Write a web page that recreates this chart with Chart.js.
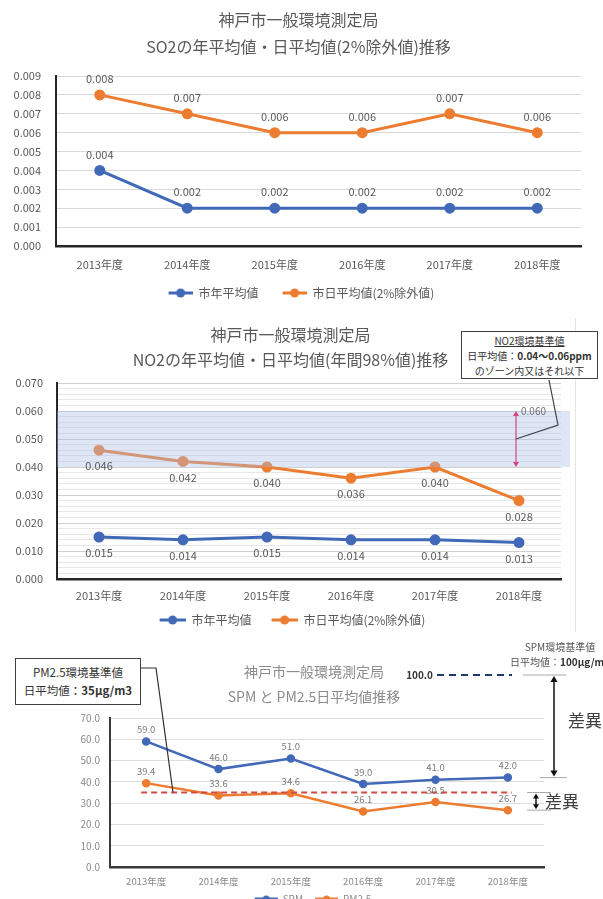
<!DOCTYPE html>
<html>
<head>
<meta charset="utf-8">
<script src="https://cdn.jsdelivr.net/npm/chart.js@4.4.0/dist/chart.umd.min.js"></script>
<style>
    html, body { margin: 0; padding: 0; background: #fff; width: 603px; height: 899px; overflow: hidden; }
    body { position: relative; font-family: "Noto Sans CJK JP", sans-serif; }
    canvas { position: absolute; left: 0; }
    .note { position: absolute; box-sizing: border-box; background: #fff; border: 1.5px solid #404040; color: #333; text-align: center; }
    .edge { position: absolute; background: #e4e4e4; }
</style>
</head>
<body>
<canvas id="so2Chart" width="603" height="309" style="top:0"></canvas>
<canvas id="no2Chart" width="603" height="327" style="top:309px"></canvas>
<canvas id="pmChart" width="603" height="278" style="top:636px"></canvas>

<div class="edge" style="left:575px;top:318px;width:1px;height:314px"></div>

<div class="note" style="left:461px;top:331px;width:137px;height:48px;font-size:10px;line-height:15px;padding-top:1px">
    <span style="text-decoration:underline">NO2環境基準値</span><br>日平均値：<b>0.04～0.06ppm</b><br>のゾーン内又はそれ以下
</div>
<div class="note" style="left:15px;top:658px;width:126px;height:47px;font-size:11.5px;line-height:18px;padding-top:4px">
    PM2.5環境基準値<br>日平均値：<b>35μg/m3</b>
</div>

<script>
const FONT = '"Noto Sans CJK JP", sans-serif';
Chart.defaults.font.family = FONT;

// データ
const years = ['2013年度', '2014年度', '2015年度', '2016年度', '2017年度', '2018年度'];
const so2Annual = [0.004, 0.002, 0.002, 0.002, 0.002, 0.002];
const so2Daily = [0.008, 0.007, 0.006, 0.006, 0.007, 0.006];
const no2Annual = [0.015, 0.014, 0.015, 0.014, 0.014, 0.013];
const no2Daily = [0.046, 0.042, 0.040, 0.036, 0.040, 0.028];
const spmDaily = [59.0, 46.0, 51.0, 39.0, 41.0, 42.0];
const pm25Daily = [39.4, 33.6, 34.6, 26.1, 30.5, 26.7];
const no2Zone = [0.040, 0.060];
const pm25Standard = 35;
const spmStandard = 100.0;

const BLUE = '#4169b8';
const ORANGE = '#ec7c30';

// 凡例のマーカー(線＋丸)。左側の余白で項目の間隔をとる
function legendIcon(color, w, gap, r) {
    const c = document.createElement('canvas');
    c.width = w + gap; c.height = 10;
    const g = c.getContext('2d');
    g.strokeStyle = color; g.lineWidth = 3;
    g.beginPath(); g.moveTo(gap, 5); g.lineTo(gap + w, 5); g.stroke();
    g.fillStyle = color;
    g.beginPath(); g.arc(gap + w / 2, 5, r, 0, Math.PI * 2); g.fill();
    return c;
}

// 値ラベル
const pointLabels = {
    id: 'pointLabels',
    afterDatasetsDraw(chart, args, opts) {
        const ctx = chart.ctx;
        ctx.save();
        ctx.font = opts.size + 'px ' + FONT;
        ctx.fillStyle = opts.color;
        ctx.textAlign = 'center';
        ctx.textBaseline = 'middle';
        chart.data.datasets.forEach((ds, i) => {
            const meta = chart.getDatasetMeta(i);
            meta.data.forEach((pt, j) => {
                ctx.fillText(ds.data[j].toFixed(opts.decimals), pt.x, pt.y + opts.offsets[i]);
            });
        });
        ctx.restore();
    }
};

// タイトルと凡例の横位置の調整
const headShift = {
    id: 'headShift',
    afterLayout(chart, args, opts) {
        if (chart.titleBlock) { chart.titleBlock.left += opts.title; chart.titleBlock.right += opts.title; }
        if (chart.legend) { chart.legend.left += opts.legend; chart.legend.right += opts.legend; }
    }
};

function arrowHead(ctx, x, y, dir, size) {
    ctx.beginPath();
    ctx.moveTo(x, y);
    ctx.lineTo(x - size * 0.6, y - dir * size);
    ctx.lineTo(x + size * 0.6, y - dir * size);
    ctx.closePath();
    ctx.fill();
}

function makeChart(id, cfg) {
    const icons = [BLUE, ORANGE].map(c => legendIcon(c, cfg.iconW, cfg.iconGap, cfg.radius + 0.5));
    return new Chart(document.getElementById(id), {
        type: 'line',
        data: {
            labels: years,
            datasets: cfg.series.map((s, i) => ({
                label: s.label,
                data: s.data,
                borderColor: i === 0 ? BLUE : ORANGE,
                backgroundColor: i === 0 ? BLUE : ORANGE,
                borderWidth: cfg.lineWidth,
                pointRadius: cfg.radius,
                pointHoverRadius: cfg.radius,
                tension: 0
            }))
        },
        plugins: cfg.plugins,
        options: {
            responsive: false,
            animation: false,
            layout: { padding: { left: 0, right: cfg.padRight, top: 0, bottom: 0 } },
            scales: {
                x: {
                    offset: true,
                    grid: { display: false, drawTicks: false },
                    border: { display: true, color: cfg.axisColor, width: 2.5 },
                    ticks: { color: cfg.textColor, font: { size: cfg.xFont }, padding: cfg.xPad, maxRotation: 0 },
                    afterFit: s => { s.height = cfg.xHeight; }
                },
                y: {
                    min: 0, max: cfg.yMax,
                    grid: { color: cfg.gridColor, drawTicks: false, lineWidth: 1 },
                    border: { display: true, color: cfg.axisColor, width: 2 },
                    ticks: { stepSize: cfg.yStep, autoSkip: false, color: cfg.textColor, font: { size: cfg.yFont }, padding: cfg.yPad, callback: cfg.yLabel },
                    afterFit: s => { s.width = cfg.yWidth; }
                }
            },
            plugins: {
                title: {
                    display: true,
                    text: cfg.title,
                    color: cfg.titleColor,
                    font: { size: cfg.titleSize, weight: 'normal', lineHeight: cfg.titleLine },
                    padding: { top: cfg.titleTop, bottom: cfg.titleBottom }
                },
                legend: {
                    position: 'bottom',
                    labels: {
                        usePointStyle: true,
                        pointStyleWidth: cfg.iconW + cfg.iconGap,
                        color: cfg.textColor,
                        font: { size: cfg.legendFont },
                        padding: cfg.legendPad,
                        generateLabels(chart) {
                            const items = Chart.defaults.plugins.legend.labels.generateLabels(chart);
                            items.forEach((it, i) => { it.pointStyle = icons[i]; });
                            return items;
                        }
                    }
                },
                tooltip: { enabled: false },
                pointLabels: cfg.labels,
                headShift: cfg.shift
            }
        }
    });
}

// SO2
makeChart('so2Chart', {
    title: ['神戸市一般環境測定局', 'SO2の年平均値・日平均値(2%除外値)推移'],
    titleSize: 16, titleLine: 1.7, titleTop: 6.4, titleBottom: 15.2, titleColor: '#595959',
    series: [{ label: '市年平均値', data: so2Annual }, { label: '市日平均値(2%除外値)', data: so2Daily }],
    lineWidth: 3, radius: 4, iconW: 24, iconGap: 14,
    padRight: 22, yWidth: 56, yPad: 15, xHeight: 31, xPad: 12,
    yMax: 0.009, yStep: 0.001, yLabel: v => v.toFixed(3),
    gridColor: '#d9d9d9', axisColor: '#262626', textColor: '#595959',
    xFont: 11, yFont: 11, legendFont: 12, legendPad: 10,
    labels: { size: 11, color: '#595959', decimals: 3, offsets: [-16, -16] },
    shift: { title: 8, legend: 4 },
    plugins: [pointLabels, headShift]
});

// NO2
const no2ZoneBand = {
    id: 'no2ZoneBand',
    afterDatasetsDraw(chart) {
        const { ctx, chartArea, scales: { y } } = chart;
        const top = y.getPixelForValue(no2Zone[1]);
        const bottom = y.getPixelForValue(no2Zone[0]);
        ctx.save();
        ctx.fillStyle = 'rgba(168,188,232,0.38)';
        ctx.fillRect(chartArea.left, top, chartArea.right - chartArea.left + 9, bottom - top);
        ctx.restore();
    }
};
const no2Notes = {
    id: 'no2Notes',
    afterDraw(chart) {
        const { ctx, scales: { x, y } } = chart;
        const ax = x.getPixelForValue(years.length - 1) - 3;
        const yHi = y.getPixelForValue(no2Zone[1]);
        const yLo = y.getPixelForValue(no2Zone[0]);
        const yMid = y.getPixelForValue((no2Zone[0] + no2Zone[1]) / 2);
        ctx.save();
        ctx.strokeStyle = '#d4457c'; ctx.fillStyle = '#d4457c'; ctx.lineWidth = 1.2;
        ctx.beginPath(); ctx.moveTo(ax, yHi + 3); ctx.lineTo(ax, yLo - 3); ctx.stroke();
        arrowHead(ctx, ax, yHi, -1, 5);
        arrowHead(ctx, ax, yLo, 1, 5);
        ctx.fillStyle = '#707070';
        ctx.font = '10px ' + FONT;
        ctx.textAlign = 'left'; ctx.textBaseline = 'middle';
        ctx.fillText(no2Zone[1].toFixed(3), ax + 5, yHi);
        ctx.strokeStyle = '#404040'; ctx.lineWidth = 1.2;
        ctx.beginPath(); ctx.moveTo(549, 71); ctx.lineTo(558, 116); ctx.lineTo(ax, yMid); ctx.stroke();
        ctx.restore();
    }
};
makeChart('no2Chart', {
    title: ['神戸市一般環境測定局', 'NO2の年平均値・日平均値(年間98%値)推移'],
    titleSize: 16, titleLine: 1.5625, titleTop: 13.5, titleBottom: 10.5, titleColor: '#595959',
    series: [{ label: '市年平均値', data: no2Annual }, { label: '市日平均値(2%除外値)', data: no2Daily }],
    lineWidth: 3, radius: 4, iconW: 26, iconGap: 10,
    padRight: 42, yWidth: 57, yPad: 14, xHeight: 25, xPad: 10,
    yMax: 0.07, yStep: 0.002,
    yLabel: v => (Math.round(v * 1000) % 10 === 0 ? v.toFixed(3) : ''),
    gridColor: c => (Math.round(c.tick.value * 1000) % 10 === 0 ? '#d0d0d0' : '#e7e7e7'),
    axisColor: '#262626', textColor: '#595959',
    xFont: 11, yFont: 11, legendFont: 12, legendPad: 10,
    labels: { size: 11, color: '#595959', decimals: 3, offsets: [16, 16] },
    shift: { title: 10, legend: 7 },
    plugins: [no2ZoneBand, pointLabels, no2Notes, headShift]
});

// SPM・PM2.5
const pmStdLine = {
    id: 'pmStdLine',
    afterDatasetsDraw(chart) {
        const { ctx, scales: { x, y } } = chart;
        const ys = y.getPixelForValue(pm25Standard);
        ctx.save();
        ctx.strokeStyle = '#cf4b46'; ctx.lineWidth = 2; ctx.setLineDash([6, 4]);
        ctx.beginPath(); ctx.moveTo(x.getPixelForValue(0) - 5, ys); ctx.lineTo(x.getPixelForValue(years.length - 1) + 4, ys); ctx.stroke();
        ctx.restore();
    }
};
const pmNotes = {
    id: 'pmNotes',
    afterDraw(chart) {
        const { ctx, scales: { y } } = chart;
        const yTop = 39;
        const ySpm = y.getPixelForValue(spmDaily[spmDaily.length - 1]);
        const yStd = y.getPixelForValue(pm25Standard);
        const yPm = y.getPixelForValue(pm25Daily[pm25Daily.length - 1]);
        ctx.save();
        // PM2.5 の引き出し線
        ctx.strokeStyle = '#303030'; ctx.lineWidth = 1.2;
        ctx.beginPath(); ctx.moveTo(141, 32); ctx.lineTo(156, 32); ctx.lineTo(173, yStd); ctx.stroke();
        // SPM 基準値
        ctx.fillStyle = '#333';
        ctx.font = 'bold 10px ' + FONT;
        ctx.textAlign = 'right'; ctx.textBaseline = 'middle';
        ctx.fillText(spmStandard.toFixed(1), 433, yTop);
        ctx.strokeStyle = '#1f3a6e'; ctx.lineWidth = 2; ctx.setLineDash([7, 5]);
        ctx.beginPath(); ctx.moveTo(437, yTop); ctx.lineTo(512, yTop); ctx.stroke();
        ctx.setLineDash([]);
        ctx.font = '10px ' + FONT; ctx.fillStyle = '#555';
        ctx.textAlign = 'center';
        ctx.fillText('SPM環境基準値', 560, 11);
        ctx.textAlign = 'left';
        ctx.fillText('日平均値：', 510, 26);
        const w = ctx.measureText('日平均値：').width;
        ctx.font = 'bold 10px ' + FONT; ctx.fillStyle = '#333';
        ctx.fillText('100μg/m3', 510 + w, 26);
        // 差異の矢印
        ctx.strokeStyle = '#a8a8a8'; ctx.lineWidth = 1;
        ctx.beginPath();
        ctx.moveTo(523, yTop); ctx.lineTo(566, yTop);
        ctx.moveTo(540, ySpm); ctx.lineTo(567, ySpm);
        ctx.moveTo(527, yStd); ctx.lineTo(551, yStd);
        ctx.moveTo(527, yPm); ctx.lineTo(551, yPm);
        ctx.stroke();
        ctx.strokeStyle = '#111'; ctx.fillStyle = '#111'; ctx.lineWidth = 1.5;
        ctx.beginPath(); ctx.moveTo(554, yTop + 4); ctx.lineTo(554, ySpm - 4); ctx.stroke();
        arrowHead(ctx, 554, yTop + 1, -1, 6);
        arrowHead(ctx, 554, ySpm - 1, 1, 6);
        ctx.beginPath(); ctx.moveTo(536, yStd + 4); ctx.lineTo(536, yPm - 4); ctx.stroke();
        arrowHead(ctx, 536, yStd + 1, -1, 5);
        arrowHead(ctx, 536, yPm - 1, 1, 5);
        ctx.fillStyle = '#404040';
        ctx.font = '17px ' + FONT; ctx.textAlign = 'center';
        ctx.fillText('差異', 585, (yTop + ySpm) / 2 - 6);
        ctx.fillText('差異', 562, (yStd + yPm) / 2);
        ctx.restore();
    }
};
makeChart('pmChart', {
    title: ['神戸市一般環境測定局', 'SPM と PM2.5日平均値推移'],
    titleSize: 14, titleLine: 1.786, titleTop: 23.5, titleBottom: 8.5, titleColor: '#8c8c8c',
    series: [{ label: 'SPM', data: spmDaily }, { label: 'PM2.5', data: pm25Daily }],
    lineWidth: 2.5, radius: 3, iconW: 23, iconGap: 6,
    padRight: 59, yWidth: 110, yPad: 10, xHeight: 21, xPad: 9,
    yMax: 70, yStep: 10, yLabel: v => v.toFixed(1),
    gridColor: '#dedede', axisColor: '#3a3a3a', textColor: '#8a8a8a',
    xFont: 9.5, yFont: 10, legendFont: 10, legendPad: 6,
    labels: { size: 9.5, color: '#7a7a7a', decimals: 1, offsets: [-12, -12] },
    shift: { title: 42, legend: 38 },
    plugins: [pmStdLine, pointLabels, pmNotes, headShift]
});
</script>
</body>
</html>
